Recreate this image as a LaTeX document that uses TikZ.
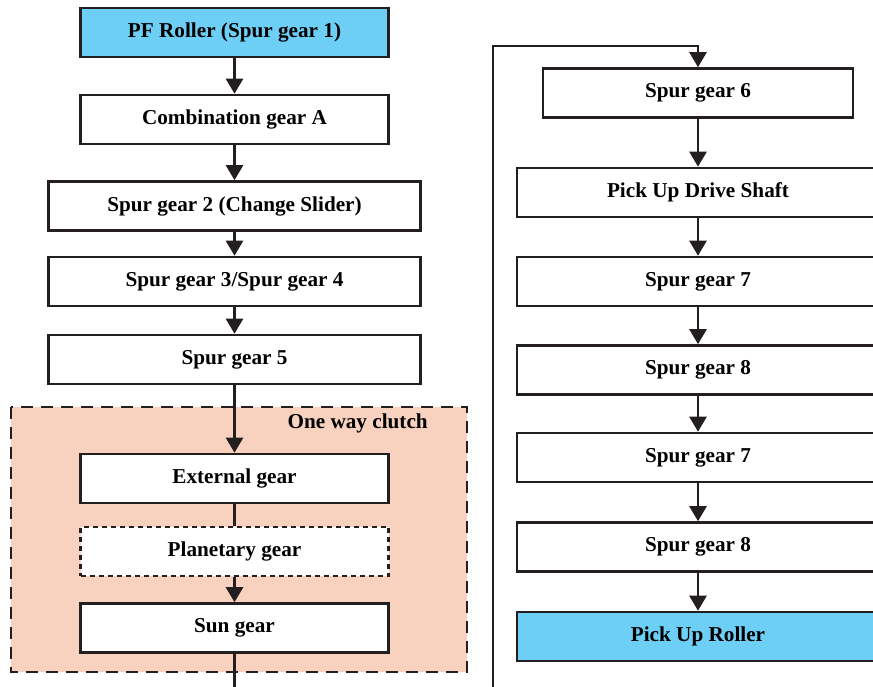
\documentclass[tikz,border=0pt]{standalone}
\usepackage{fontspec}
\setmainfont{Liberation Serif}
\usetikzlibrary{arrows.meta,positioning}
\definecolor{rollerblue}{HTML}{6DCFF6}
\definecolor{clutchpink}{HTML}{F9D1BF}
\definecolor{inkgrey}{HTML}{231F20}

\begin{document}
\begin{tikzpicture}[x=0.5pt,y=-0.5pt,->,>={Triangle[length=7.5pt,width=8.5pt]},
  line width=1.3pt,draw=inkgrey,
  gearbox/.style={rectangle,draw=inkgrey,fill=white,text=black,
    font=\bfseries\fontsize{10.6}{12}\selectfont,
    minimum height=24.5pt,minimum width=154pt,inner sep=0pt},
  widebox/.style={gearbox,minimum width=186pt},
  rightbox/.style={gearbox,minimum width=181pt},
  rollerbox/.style={gearbox,fill=rollerblue},
  hiddenbox/.style={gearbox,dash pattern=on 2.5pt off 2pt},
  clutchframe/.style={-,draw=inkgrey,fill=clutchpink,dash pattern=on 6pt off 4pt},
  title/.style={font=\bfseries\fontsize{10.6}{12}\selectfont,inner sep=0pt}]

  \useasboundingbox (0,0) rectangle (873,686);
  \clip (0,0) rectangle (873,686);

  % one way clutch area
  \draw[clutchframe] (11,407) rectangle (467,672);
  \node[title] (clutchlbl) at (429,423) [anchor=east] {One way clutch};

  % left column
  \node[rollerbox] (pf) at (234.5,32.5) {PF Roller (Spur gear 1)};
  \node[gearbox] (combA) [node distance=43.5pt, below of=pf] {Combination gear A};
  \node[widebox] (sg2) [node distance=43.25pt, below of=combA] {Spur gear 2 (Change Slider)};
  \node[widebox] (sg34) [node distance=37.75pt, below of=sg2] {Spur gear 3/Spur gear 4};
  \node[widebox] (sg5) [node distance=39pt, below of=sg34] {Spur gear 5};
  \node[gearbox] (ext) [node distance=59.5pt, below of=sg5] {External gear};
  \node[hiddenbox] (planet) [node distance=36.5pt, below of=ext] {Planetary gear};
  \node[gearbox] (sun) [node distance=38.25pt, below of=planet] {Sun gear};

  % right column
  \node[gearbox,minimum width=155pt] (sg6) at (698,93) {Spur gear 6};
  \node[rightbox] (shaft) [node distance=49.75pt, below of=sg6] {Pick Up Drive Shaft};
  \node[rightbox] (sg7a) [node distance=44.5pt, below of=shaft] {Spur gear 7};
  \node[rightbox] (sg8a) [node distance=44.25pt, below of=sg7a] {Spur gear 8};
  \node[rightbox] (sg7b) [node distance=43.75pt, below of=sg8a] {Spur gear 7};
  \node[rightbox] (sg8b) [node distance=44.75pt, below of=sg7b] {Spur gear 8};
  \node[rightbox,fill=rollerblue] (pickup) [node distance=44.75pt, below of=sg8b] {Pick Up Roller};

  \coordinate (exitL) at (234.5,700);
  \coordinate (feedTop) at (493,46);

  \path
  (pf) edge (combA)
  (combA) edge (sg2)
  (sg2) edge (sg34)
  (sg34) edge (sg5)
  (sg5) edge (ext)
  (ext) edge[-] (planet)
  (planet) edge (sun)
  ;

  \path
  (sg6) edge (shaft)
  (shaft) edge (sg7a)
  (sg7a) edge (sg8a)
  (sg8a) edge (sg7b)
  (sg7b) edge (sg8b)
  (sg8b) edge (pickup)
  ;

  \draw (sun) -- (exitL) -| (feedTop) -| (sg6);
\end{tikzpicture}
\end{document}
